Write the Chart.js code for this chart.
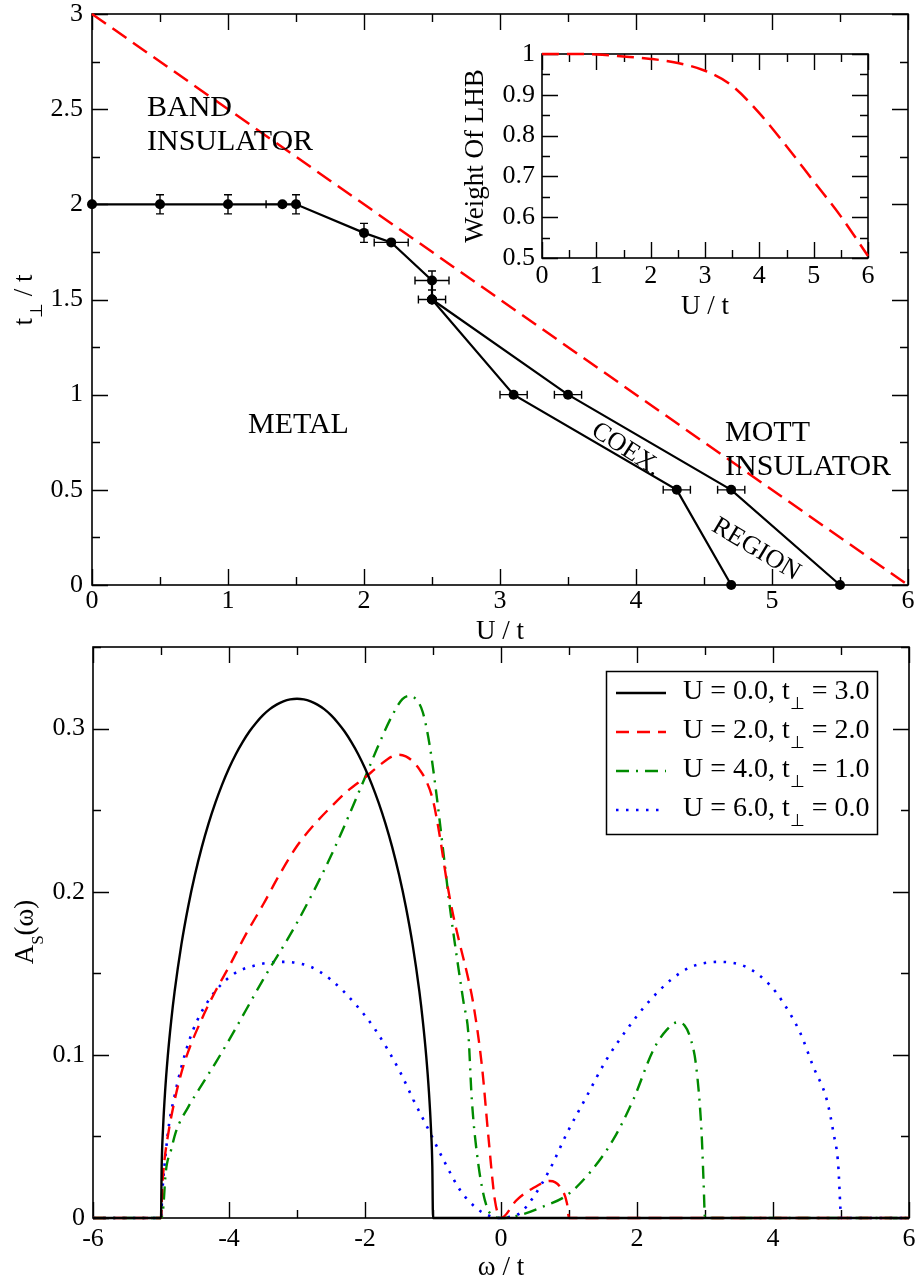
<!DOCTYPE html>
<html><head><meta charset="utf-8">
<script src="https://cdn.jsdelivr.net/npm/chart.js@4.4.1/dist/chart.umd.min.js"></script>
<style>
html,body{margin:0;padding:0;background:#fff;}
#wrap{position:relative;width:918px;height:1281px;overflow:hidden;background:#fff;}
canvas{position:absolute;}
#c1{left:0;top:0;width:918px;height:640px;}
#c2{left:430px;top:30px;width:460px;height:300px;}
#c3{left:0;top:640px;width:918px;height:641px;}
</style></head><body><div id="wrap">
<canvas id="c1" width="918" height="640"></canvas>
<canvas id="c3" width="918" height="641"></canvas>
<canvas id="c2" width="460" height="300"></canvas>
</div>
<script>
// ---------------- DATA ----------------
// Phase diagram (top panel)
const bandU = [0, 6];
const bandT = [3, 0];
const mainU = [0, 0.5, 1, 1.4, 1.5, 2, 2.2, 2.5, 2.5];
const mainT = [2, 2, 2, 2, 2, 1.85, 1.8, 1.6, 1.5];
const mainUErr = [0, 0, 0, 0.12, 0, 0, 0.125, 0.125, 0.1];
const mainTErr = [0, 0.05, 0.05, 0, 0.05, 0.05, 0, 0.05, 0];
const lowerU = [2.5, 3.1, 4.3, 4.7];
const lowerT = [1.5, 1.0, 0.5, 0];
const lowerUErr = [0, 0.1, 0.1, 0];
const upperU = [2.5, 3.5, 4.7, 5.5];
const upperT = [1.5, 1.0, 0.5, 0];
const upperUErr = [0, 0.1, 0.1, 0];
const topXTicks = [0, 6, 1];      // min, max, step
const topYTicks = [0, 3, 0.5];

// Inset: weight of LHB
const lhbU = [0, 0.5, 1, 1.5, 2, 2.5, 3, 3.5, 4, 4.5, 5, 5.5, 6];
const lhbW = [1.0, 1.0, 0.999, 0.994, 0.988, 0.978, 0.959, 0.922, 0.855, 0.774, 0.688, 0.602, 0.505];
const insetXTicks = [0, 6, 1];
const insetYTicks = [0.5, 1, 0.1];

// Spectral functions (bottom panel)
const wBlack = [-6,-5,-4.99,-4.97,-4.94,-4.9,-4.85,-4.8,-4.7,-4.6,-4.5,-4.4,-4.3,-4.2,-4.1,-4.0,-3.9,-3.8,-3.7,-3.6,-3.5,-3.4,-3.3,-3.2,-3.1,-3.0,-2.9,-2.8,-2.7,-2.6,-2.5,-2.4,-2.3,-2.2,-2.1,-2.0,-1.9,-1.8,-1.7,-1.6,-1.5,-1.4,-1.3,-1.2,-1.15,-1.1,-1.06,-1.03,-1.01,-1.0,6];
const aBlack = [0,0,0.0318,0.0549,0.0774,0.0994,0.1209,0.1387,0.1677,0.1910,0.2105,0.2273,0.2419,0.2546,0.2658,0.2757,0.2843,0.2917,0.2982,0.3036,0.3082,0.3119,0.3147,0.3167,0.3179,0.3183,0.3179,0.3167,0.3147,0.3119,0.3082,0.3036,0.2982,0.2917,0.2843,0.2757,0.2658,0.2546,0.2419,0.2273,0.2105,0.1910,0.1677,0.1387,0.1209,0.0994,0.0774,0.0549,0.0318,0,0];
const wRed = [-6,-5,-4.98,-4.95,-4.9,-4.8,-4.7,-4.6,-4.4,-4.2,-4.0,-3.75,-3.5,-3.25,-3.0,-2.75,-2.5,-2.25,-2.0,-1.8,-1.6,-1.5,-1.4,-1.3,-1.2,-1.1,-1.0,-0.9,-0.8,-0.7,-0.6,-0.5,-0.41,-0.28,-0.19,-0.09,0,0.23,0.48,0.72,0.87,0.97,1.0,6];
const aRed = [0,0,0.02,0.035,0.05,0.072,0.089,0.102,0.122,0.139,0.154,0.174,0.192,0.211,0.228,0.241,0.252,0.262,0.270,0.277,0.283,0.284,0.283,0.280,0.275,0.268,0.256,0.234,0.207,0.185,0.167,0.150,0.132,0.093,0.052,0.011,0,0.011,0.0185,0.0227,0.019,0.009,0,0];
const wGreen = [-6,-5,-4.97,-4.93,-4.85,-4.78,-4.6,-4.44,-4.2,-4.0,-3.5,-3.0,-2.5,-2.0,-1.8,-1.6,-1.45,-1.35,-1.25,-1.15,-1.05,-0.95,-0.85,-0.75,-0.65,-0.55,-0.48,-0.43,-0.33,-0.21,-0.1,0,0.3,0.62,0.97,1.31,1.65,1.95,2.24,2.44,2.6,2.7,2.78,2.87,2.95,2.98,3.0,6];
const aGreen = [0,0,0.005,0.028,0.042,0.053,0.068,0.079,0.095,0.109,0.146,0.181,0.222,0.270,0.290,0.308,0.318,0.320,0.318,0.310,0.29,0.26,0.225,0.19,0.16,0.132,0.113,0.073,0.032,0.007,0.001,0,0.002,0.007,0.014,0.028,0.048,0.073,0.103,0.1155,0.12,0.118,0.111,0.093,0.052,0.021,0,0];
const wBlue = [-6,-5,-4.98,-4.93,-4.88,-4.8,-4.71,-4.54,-4.29,-3.95,-3.6,-3.2,-2.8,-2.5,-2.14,-1.85,-1.49,-1.29,-1.04,-0.85,-0.6,-0.36,-0.15,0,0.15,0.28,0.48,0.72,0.97,1.26,1.55,1.85,2.14,2.5,2.8,3.2,3.6,3.95,4.15,4.4,4.59,4.79,4.89,4.96,4.99,5.0,6];
const aBlue = [0,0,0.016,0.04,0.058,0.075,0.091,0.114,0.134,0.149,0.155,0.157,0.154,0.146,0.131,0.1155,0.090,0.0726,0.052,0.036,0.017,0.006,0.001,0,0.001,0.003,0.013,0.030,0.052,0.0746,0.097,0.1155,0.131,0.146,0.154,0.157,0.154,0.143,0.132,0.1135,0.093,0.0726,0.052,0.032,0.007,0,0];
const legendU = ['0.0', '2.0', '4.0', '6.0'];
const legendT = ['3.0', '2.0', '1.0', '0.0'];
const botXTicks = [-6, 6, 2];
const botYTicks = [0, 0.35, 0.1];

// ---------------- HELPERS ----------------
const FONT = '"Liberation Serif","Times New Roman",serif';
Chart.defaults.font.family = FONT;
Chart.defaults.color = '#000';

function pts(xs, ys) { return xs.map((x, i) => ({x: x, y: ys[i]})); }
function stepVals(min, max, step) {
  const out = []; const n = Math.round((max - min) / step);
  for (let i = 0; i <= n; i++) out.push(min + i * step);
  return out;
}
function drawRich(ctx, segs, x, y, size, o) {
  o = o || {};
  const parts = (typeof segs === 'string') ? [{t: segs}] : segs;
  ctx.save();
  ctx.translate(x, y); ctx.rotate(o.rot || 0);
  ctx.fillStyle = '#000'; ctx.textBaseline = 'alphabetic'; ctx.textAlign = 'left';
  const widths = []; let w = 0;
  parts.forEach(s => {
    ctx.font = (s.sub ? Math.round(size * 0.62) : size) + 'px ' + FONT;
    const ww = ctx.measureText(s.t).width; widths.push(ww); w += ww;
  });
  let cx = o.align === 'center' ? -w / 2 : (o.align === 'right' ? -w : 0);
  const by = o.vcenter ? size * 0.33 : 0;
  parts.forEach((s, i) => {
    ctx.font = (s.sub ? Math.round(size * 0.62) : size) + 'px ' + FONT;
    ctx.fillText(s.t, cx, by + (s.sub ? size * 0.36 : 0));
    cx += widths[i];
  });
  ctx.restore();
}

const framePlugin = {
  id: 'frame',
  beforeDatasetsDraw(chart, args, o) {
    const {ctx, chartArea: a} = chart;
    const x = chart.scales.x, y = chart.scales.y;
    ctx.save();
    ctx.strokeStyle = '#000';
    ctx.lineWidth = 1.6;
    ctx.strokeRect(a.left, a.top, a.right - a.left, a.bottom - a.top);
    ctx.lineWidth = 1.4;
    ctx.beginPath();
    const isMajor = (v, m) => Math.abs(v / m - Math.round(v / m)) < 1e-6;
    stepVals(x.min, x.max, o.xMinor).forEach(v => {
      const L = isMajor(v, o.xMajor) ? o.major : o.minor;
      const p = Math.round(x.getPixelForValue(v)) + 0.5;
      ctx.moveTo(p, a.bottom); ctx.lineTo(p, a.bottom - L);
      ctx.moveTo(p, a.top); ctx.lineTo(p, a.top + L);
    });
    stepVals(y.min, y.max, o.yMinor).forEach(v => {
      const L = isMajor(v, o.yMajor) ? o.major : o.minor;
      const p = Math.round(y.getPixelForValue(v)) + 0.5;
      ctx.moveTo(a.left, p); ctx.lineTo(a.left + L, p);
      ctx.moveTo(a.right, p); ctx.lineTo(a.right - L, p);
    });
    ctx.stroke();
    ctx.restore();
  }
};

const errPlugin = {
  id: 'errbars',
  afterDatasetsDraw(chart) {
    const {ctx} = chart; const x = chart.scales.x, y = chart.scales.y;
    ctx.save(); ctx.strokeStyle = '#000'; ctx.lineWidth = 1.4; ctx.setLineDash([]);
    ctx.beginPath();
    chart.data.datasets.forEach(ds => {
      if (!ds.errX && !ds.errY) return;
      ds.data.forEach((p, i) => {
        const px = x.getPixelForValue(p.x), py = y.getPixelForValue(p.y);
        const ex = ds.errX ? ds.errX[i] : 0, ey = ds.errY ? ds.errY[i] : 0;
        if (ex) {
          const l = x.getPixelForValue(p.x - ex), r = x.getPixelForValue(p.x + ex);
          ctx.moveTo(l, py); ctx.lineTo(r, py);
          ctx.moveTo(l, py - 4); ctx.lineTo(l, py + 4);
          ctx.moveTo(r, py - 4); ctx.lineTo(r, py + 4);
        }
        if (ey) {
          const t = y.getPixelForValue(p.y + ey), b = y.getPixelForValue(p.y - ey);
          ctx.moveTo(px, t); ctx.lineTo(px, b);
          ctx.moveTo(px - 4, t); ctx.lineTo(px + 4, t);
          ctx.moveTo(px - 4, b); ctx.lineTo(px + 4, b);
        }
      });
    });
    ctx.stroke(); ctx.restore();
  }
};

const textPlugin = {
  id: 'texts',
  afterDraw(chart, args, o) {
    (o.items || []).forEach(t => drawRich(chart.ctx, t.segs, t.x, t.y, t.size, t));
  }
};

const legendPlugin = {
  id: 'richLegend',
  afterDraw(chart, args, o) {
    if (!o.box) return;
    const ctx = chart.ctx;
    ctx.save();
    ctx.fillStyle = '#fff';
    ctx.fillRect(o.box[0], o.box[1], o.box[2], o.box[3]);
    ctx.strokeStyle = '#000'; ctx.lineWidth = 1.5;
    ctx.strokeRect(o.box[0], o.box[1], o.box[2], o.box[3]);
    chart.data.datasets.forEach((ds, i) => {
      const by = o.y0 + i * o.dy;
      ctx.save();
      ctx.strokeStyle = ds.borderColor; ctx.lineWidth = ds.borderWidth;
      ctx.setLineDash(ds.borderDash || []);
      ctx.beginPath(); ctx.moveTo(o.x0, by - 6); ctx.lineTo(o.x1, by - 6); ctx.stroke();
      ctx.restore();
      drawRich(ctx, [{t: 'U = ' + legendU[i] + ', t'}, {t: '\u22A5', sub: true}, {t: ' = ' + legendT[i]}], o.tx, by, o.size);
    });
    ctx.restore();
  }
};

function axisCfg(ticksArr, pad, fit, isX) {
  return {
    type: 'linear', min: ticksArr[0], max: ticksArr[1],
    grid: {display: false, drawTicks: false}, border: {display: false},
    ticks: {stepSize: ticksArr[2], padding: pad, font: {family: FONT, size: 26}, color: '#000',
            autoSkip: false, maxRotation: 0, minRotation: 0, includeBounds: false,
            callback: v => String(Math.round(v * 1000) / 1000)},
    afterFit(s) {
      if (isX) s.height = fit; else s.width = fit;
      s.paddingTop = 0; s.paddingBottom = 0; s.paddingLeft = 0; s.paddingRight = 0;
    }
  };
}
const baseOpts = {responsive: false, animation: false, devicePixelRatio: 1, events: []};

// ---------------- TOP PANEL ----------------
new Chart(document.getElementById('c1'), {
  type: 'line',
  data: {datasets: [
    {label: 'band', data: pts(bandU, bandT), borderColor: '#ff0000', borderWidth: 2.5, borderDash: [17, 8], pointRadius: 0, clip: false},
    {label: 'metal boundary', data: pts(mainU, mainT), errX: mainUErr, errY: mainTErr, borderColor: '#000', borderWidth: 2.2,
     pointRadius: 5, pointBackgroundColor: '#000', pointBorderWidth: 0, clip: false},
    {label: 'lower', data: pts(lowerU, lowerT), errX: lowerUErr, borderColor: '#000', borderWidth: 2.2,
     pointRadius: 5, pointBackgroundColor: '#000', pointBorderWidth: 0, clip: false},
    {label: 'upper', data: pts(upperU, upperT), errX: upperUErr, borderColor: '#000', borderWidth: 2.2,
     pointRadius: 5, pointBackgroundColor: '#000', pointBorderWidth: 0, clip: false}
  ]},
  options: Object.assign({}, baseOpts, {
    layout: {padding: {left: 0, top: 14, right: 10, bottom: 0}},
    scales: {x: axisCfg(topXTicks, 1, 55, true), y: axisCfg(topYTicks, 9, 92, false)},
    plugins: {
      legend: {display: false}, tooltip: {enabled: false},
      frame: {xMajor: 1, xMinor: 0.5, yMajor: 0.5, yMinor: 0.25, major: 16, minor: 8},
      texts: {items: [
        {segs: 'BAND', x: 147, y: 116, size: 30},
        {segs: 'INSULATOR', x: 147, y: 150, size: 30},
        {segs: 'METAL', x: 248, y: 433, size: 30},
        {segs: 'MOTT', x: 725, y: 441, size: 30},
        {segs: 'INSULATOR', x: 725, y: 475, size: 30},
        {segs: 'COEX.', x: 627, y: 448, size: 26, rot: 33 * Math.PI / 180, align: 'center', vcenter: true},
        {segs: 'REGION', x: 757, y: 548, size: 26, rot: 31 * Math.PI / 180, align: 'center', vcenter: true},
        {segs: 'U / t', x: 500, y: 630, size: 27, align: 'center', vcenter: true},
        {segs: [{t: 't'}, {t: '\u22A5', sub: true}, {t: ' / t'}], x: 23, y: 300, size: 27, rot: -Math.PI / 2, align: 'center', vcenter: true}
      ]}
    }
  }),
  plugins: [framePlugin, errPlugin, textPlugin]
});

// ---------------- INSET ----------------
new Chart(document.getElementById('c2'), {
  type: 'line',
  data: {datasets: [
    {label: 'Weight Of LHB', data: pts(lhbU, lhbW), borderColor: '#ff0000', borderWidth: 2.5, borderDash: [17, 8],
     pointRadius: 0, cubicInterpolationMode: 'monotone', tension: 0.4, clip: false}
  ]},
  options: Object.assign({}, baseOpts, {
    layout: {padding: {left: 0, top: 24, right: 22, bottom: 0}},
    scales: {x: axisCfg(insetXTicks, 3, 72, true), y: axisCfg(insetYTicks, 7, 112, false)},
    plugins: {
      legend: {display: false}, tooltip: {enabled: false},
      frame: {xMajor: 1, xMinor: 0.5, yMajor: 0.1, yMinor: 0.05, major: 16, minor: 8},
      texts: {items: [
        {segs: 'U / t', x: 275, y: 275, size: 27, align: 'center', vcenter: true},
        {segs: 'Weight Of LHB', x: 44, y: 126, size: 27, rot: -Math.PI / 2, align: 'center', vcenter: true}
      ]}
    }
  }),
  plugins: [framePlugin, textPlugin]
});

// ---------------- BOTTOM PANEL ----------------
const lineCommon = {pointRadius: 0, cubicInterpolationMode: 'monotone', tension: 0.4, clip: false, fill: false};
new Chart(document.getElementById('c3'), {
  type: 'line',
  data: {datasets: [
    Object.assign({label: 'U = 0.0, t\u22A5 = 3.0', data: pts(wBlack, aBlack), borderColor: '#000000', borderWidth: 2.4, borderDash: []}, lineCommon),
    Object.assign({label: 'U = 2.0, t\u22A5 = 2.0', data: pts(wRed, aRed), borderColor: '#ff0000', borderWidth: 2.4, borderDash: [13, 8]}, lineCommon),
    Object.assign({label: 'U = 4.0, t\u22A5 = 1.0', data: pts(wGreen, aGreen), borderColor: '#008b00', borderWidth: 2.4, borderDash: [13, 7, 2, 7]}, lineCommon),
    Object.assign({label: 'U = 6.0, t\u22A5 = 0.0', data: pts(wBlue, aBlue), borderColor: '#0000ff', borderWidth: 2.6, borderDash: [2.5, 7.5]}, lineCommon)
  ]},
  options: Object.assign({}, baseOpts, {
    layout: {padding: {left: 0, top: 7, right: 9, bottom: 0}},
    scales: {x: axisCfg(botXTicks, 6, 63, true), y: axisCfg(botYTicks, 8, 93, false)},
    plugins: {
      legend: {display: false}, tooltip: {enabled: false},
      frame: {xMajor: 2, xMinor: 1, yMajor: 0.1, yMinor: 0.05, major: 16, minor: 8},
      richLegend: {box: [606.5, 31.5, 271, 163], x0: 616, x1: 666, tx: 683, y0: 59, dy: 39, size: 28},
      texts: {items: [
        {segs: '\u03C9 / t', x: 501, y: 626, size: 27, align: 'center', vcenter: true},
        {segs: [{t: 'A'}, {t: 'S', sub: true}, {t: '(\u03C9)'}], x: 24, y: 292, size: 27, rot: -Math.PI / 2, align: 'center', vcenter: true}
      ]}
    }
  }),
  plugins: [framePlugin, textPlugin, legendPlugin]
});
</script>
</body></html>
